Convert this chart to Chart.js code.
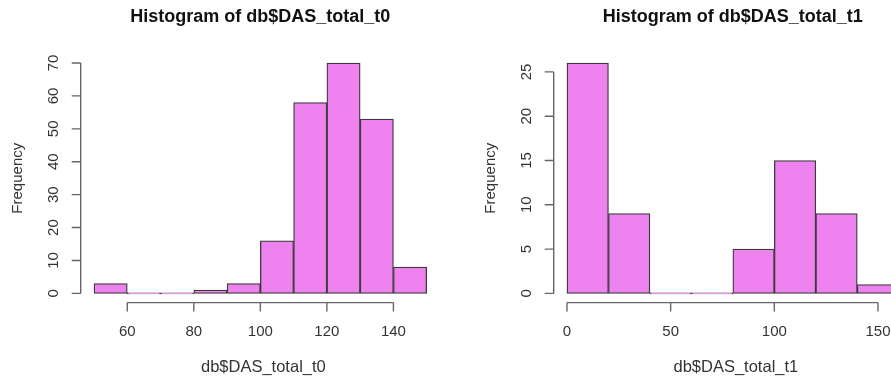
<!DOCTYPE html>
<html>
<head>
<meta charset="utf-8">
<script src="https://cdn.jsdelivr.net/npm/chart.js@4/dist/chart.umd.min.js"></script>
<style>
  html, body { margin: 0; padding: 0; background: #fff; overflow: hidden; }
  .panel { position: absolute; top: 0; height: 378px; }
  #p0 { left: 0; width: 445px; }
  #p1 { left: 445px; width: 480px; }
</style>
</head>
<body>
<div class="panel" id="p0"><canvas id="hist0"></canvas></div>
<div class="panel" id="p1"><canvas id="hist1"></canvas></div>
<script>
// histograma de db$DAS_total_t0
const breaksT0 = [50, 60, 70, 80, 90, 100, 110, 120, 130, 140, 150];
const countsT0 = [3, 0, 0, 1, 3, 16, 58, 70, 53, 8];
const xTicksT0 = [60, 80, 100, 120, 140];
const yTicksT0 = [0, 10, 20, 30, 40, 50, 60, 70];

// histograma de db$DAS_total_t1
const breaksT1 = [0, 20, 40, 60, 80, 100, 120, 140, 160];
const countsT1 = [26, 9, 0, 0, 5, 15, 9, 1];
const xTicksT1 = [0, 50, 100, 150];
const yTicksT1 = [0, 5, 10, 15, 20, 25];

const FONT = "'Liberation Sans', Arial, Helvetica, sans-serif";
const TEXT = '#333';
const AXIS = '#666';

// eixos no estilo do R: linha só entre o primeiro e o último tick
const rAxes = {
    id: 'rAxes',
    afterDraw(chart, args, opts) {
        const ctx = chart.ctx;
        const xs = chart.scales.x, ys = chart.scales.y;
        const area = chart.chartArea;
        const tl = 9;
        ctx.save();
        ctx.strokeStyle = AXIS;
        ctx.lineWidth = 1.4;
        ctx.fillStyle = TEXT;
        ctx.font = '15px ' + FONT;

        // eixo x
        const xa = opts.xTicks.map(v => xs.getPixelForValue(v));
        const yb = area.bottom;
        ctx.beginPath();
        ctx.moveTo(xa[0], yb);
        ctx.lineTo(xa[xa.length - 1], yb);
        xa.forEach(px => { ctx.moveTo(px, yb); ctx.lineTo(px, yb + tl); });
        ctx.stroke();
        ctx.textAlign = 'center';
        ctx.textBaseline = 'middle';
        opts.xTicks.forEach((v, i) => ctx.fillText(String(v), xa[i], yb + 29));

        // eixo y
        const ya = opts.yTicks.map(v => ys.getPixelForValue(v));
        const xl = area.left;
        ctx.beginPath();
        ctx.moveTo(xl, ya[0]);
        ctx.lineTo(xl, ya[ya.length - 1]);
        ya.forEach(py => { ctx.moveTo(xl, py); ctx.lineTo(xl - tl, py); });
        ctx.stroke();
        opts.yTicks.forEach((v, i) => {
            ctx.save();
            ctx.translate(xl - 27, ya[i]);
            ctx.rotate(-Math.PI / 2);
            ctx.fillText(String(v), 0, 0);
            ctx.restore();
        });

        // títulos dos eixos
        const cx = (area.left + area.right) / 2;
        const cy = (area.top + area.bottom) / 2;
        ctx.save();
        ctx.translate(xl - 62.5, cy);
        ctx.rotate(-Math.PI / 2);
        ctx.fillText('Frequency', 0, 0);
        ctx.restore();
        ctx.font = '16.5px ' + FONT;
        ctx.fillText(opts.xTitle, cx + 3, 367);
        ctx.restore();
    }
};

function makeHist(id, breaks, counts, xTicks, yTicks, name, padLeft, padRight) {
    const centers = counts.map((c, i) => (breaks[i] + breaks[i + 1]) / 2);
    const lo = breaks[0], hi = breaks[breaks.length - 1];
    const ext = (hi - lo) * 0.04;
    const ymax = Math.max(...counts);
    new Chart(document.getElementById(id), {
        type: 'bar',
        data: {
            datasets: [{
                data: centers.map((c, i) => ({ x: c, y: counts[i] })),
                backgroundColor: '#EE82EE',
                borderColor: '#3a3a3a',
                borderWidth: 1.3,
                borderSkipped: false,
                minBarLength: 1,
                barPercentage: 1,
                categoryPercentage: 1
            }]
        },
        options: {
            responsive: true,
            maintainAspectRatio: false,
            animation: false,
            layout: { padding: { left: padLeft, right: padRight, top: 0, bottom: 75.4 } },
            scales: {
                x: {
                    type: 'linear', display: false, offset: false,
                    min: lo - ext, max: hi + ext,
                    afterBuildTicks: s => { s.ticks = xTicks.map(v => ({ value: v })); }
                },
                y: {
                    display: false,
                    min: -ymax * 0.04, max: ymax * 1.04,
                    afterBuildTicks: s => { s.ticks = yTicks.map(v => ({ value: v })); }
                }
            },
            plugins: {
                legend: { display: false },
                tooltip: { enabled: false },
                title: {
                    display: true,
                    fullSize: false,
                    text: 'Histogram of ' + name,
                    color: '#111',
                    font: { family: FONT, size: 18, weight: 'bold' },
                    padding: { top: 6.7, bottom: 25.5 }
                },
                rAxes: { xTicks: xTicks, yTicks: yTicks, xTitle: name }
            }
        },
        plugins: [rAxes]
    });
}

document.addEventListener('DOMContentLoaded', function() {
    makeHist('hist0', breaksT0, countsT0, xTicksT0, yTicksT0, 'db$DAS_total_t0', 80.7, 5);
    makeHist('hist1', breaksT1, countsT1, xTicksT1, yTicksT1, 'db$DAS_total_t1', 108.7, 13);
});
</script>
</body>
</html>
